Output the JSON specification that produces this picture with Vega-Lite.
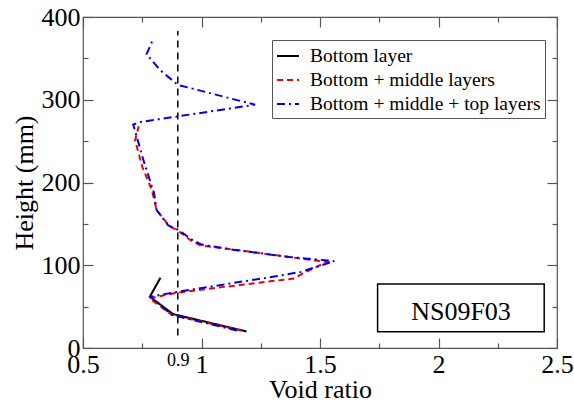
{
  "$schema": "https://vega.github.io/schema/vega-lite/v6.json",
  "width": 474,
  "height": 331,
  "autosize": "none",
  "padding": {"left": 83, "top": 17, "right": 17, "bottom": 57},
  "config": {
    "font": "Liberation Serif",
    "view": {"stroke": "#555", "strokeWidth": 1.2},
    "axis": {"domain": false, "grid": false, "tickColor": "#555", "tickWidth": 1.2, "labelColor": "black", "titleColor": "black", "labelFont": "Liberation Serif", "titleFont": "Liberation Serif", "titleFontWeight": "normal"}
  },
  "datasets": {
    "profiles": [
      {"s": "Bottom layer", "i": 1, "e": 1.19, "h": 20},
      {"s": "Bottom layer", "i": 2, "e": 0.88, "h": 41},
      {"s": "Bottom layer", "i": 3, "e": 0.782, "h": 62},
      {"s": "Bottom layer", "i": 4, "e": 0.827, "h": 85},
      {"s": "Bottom + middle layers", "i": 1, "e": 1.17, "h": 21},
      {"s": "Bottom + middle layers", "i": 2, "e": 0.875, "h": 40},
      {"s": "Bottom + middle layers", "i": 3, "e": 0.78, "h": 60},
      {"s": "Bottom + middle layers", "i": 4, "e": 0.9, "h": 67},
      {"s": "Bottom + middle layers", "i": 5, "e": 1.16, "h": 76},
      {"s": "Bottom + middle layers", "i": 6, "e": 1.39, "h": 84},
      {"s": "Bottom + middle layers", "i": 7, "e": 1.44, "h": 92},
      {"s": "Bottom + middle layers", "i": 8, "e": 1.53, "h": 104},
      {"s": "Bottom + middle layers", "i": 9, "e": 1.37, "h": 110},
      {"s": "Bottom + middle layers", "i": 10, "e": 1.16, "h": 118},
      {"s": "Bottom + middle layers", "i": 11, "e": 0.995, "h": 124},
      {"s": "Bottom + middle layers", "i": 12, "e": 0.955, "h": 130},
      {"s": "Bottom + middle layers", "i": 13, "e": 0.9, "h": 142},
      {"s": "Bottom + middle layers", "i": 14, "e": 0.865, "h": 147},
      {"s": "Bottom + middle layers", "i": 15, "e": 0.81, "h": 167},
      {"s": "Bottom + middle layers", "i": 16, "e": 0.8, "h": 180},
      {"s": "Bottom + middle layers", "i": 17, "e": 0.79, "h": 191},
      {"s": "Bottom + middle layers", "i": 18, "e": 0.75, "h": 219},
      {"s": "Bottom + middle layers", "i": 19, "e": 0.72, "h": 251},
      {"s": "Bottom + middle layers", "i": 20, "e": 0.735, "h": 268},
      {"s": "Bottom + middle + top layers", "i": 1, "e": 1.15, "h": 21},
      {"s": "Bottom + middle + top layers", "i": 2, "e": 0.875, "h": 40},
      {"s": "Bottom + middle + top layers", "i": 3, "e": 0.785, "h": 62},
      {"s": "Bottom + middle + top layers", "i": 4, "e": 0.9, "h": 68},
      {"s": "Bottom + middle + top layers", "i": 5, "e": 1.3, "h": 86},
      {"s": "Bottom + middle + top layers", "i": 6, "e": 1.42, "h": 92},
      {"s": "Bottom + middle + top layers", "i": 7, "e": 1.56, "h": 105},
      {"s": "Bottom + middle + top layers", "i": 8, "e": 1.37, "h": 110},
      {"s": "Bottom + middle + top layers", "i": 9, "e": 1.14, "h": 118.5},
      {"s": "Bottom + middle + top layers", "i": 10, "e": 1.0, "h": 125},
      {"s": "Bottom + middle + top layers", "i": 11, "e": 0.96, "h": 131},
      {"s": "Bottom + middle + top layers", "i": 12, "e": 0.9, "h": 143},
      {"s": "Bottom + middle + top layers", "i": 13, "e": 0.86, "h": 148},
      {"s": "Bottom + middle + top layers", "i": 14, "e": 0.81, "h": 167},
      {"s": "Bottom + middle + top layers", "i": 15, "e": 0.8, "h": 187},
      {"s": "Bottom + middle + top layers", "i": 16, "e": 0.755, "h": 227},
      {"s": "Bottom + middle + top layers", "i": 17, "e": 0.725, "h": 257},
      {"s": "Bottom + middle + top layers", "i": 18, "e": 0.712, "h": 270},
      {"s": "Bottom + middle + top layers", "i": 19, "e": 0.74, "h": 273},
      {"s": "Bottom + middle + top layers", "i": 20, "e": 1.226, "h": 294},
      {"s": "Bottom + middle + top layers", "i": 21, "e": 0.9, "h": 318},
      {"s": "Bottom + middle + top layers", "i": 22, "e": 0.825, "h": 336},
      {"s": "Bottom + middle + top layers", "i": 23, "e": 0.768, "h": 355},
      {"s": "Bottom + middle + top layers", "i": 24, "e": 0.797, "h": 374}
    ],
    "label": [
      {"x1": 1.743, "x2": 2.446, "y1": 19.7, "y2": 77.3, "xm": 2.095, "ym": 44, "t": "NS09F03"}
    ]
  },
  "resolve": {"axis": {"x": "independent", "y": "independent"}},
  "layer": [
    {
      "data": {"name": "profiles"},
      "mark": {"type": "line", "strokeWidth": 2, "clip": false},
      "encoding": {
        "x": {
          "field": "e", "type": "quantitative",
          "scale": {"domain": [0.5, 2.5], "nice": false, "zero": false},
          "axis": {
            "orient": "bottom",
            "values": [0.5, 0.75, 0.9, 1, 1.25, 1.5, 1.75, 2, 2.25, 2.5],
            "labelExpr": "indexof([0.75,1.25,1.75,2.25], datum.value) >= 0 ? '' : format(datum.value, '~g')",
            "labelOverlap": false,
            "labelFlush": false,
            "labelFontSize": {"condition": {"test": "datum.value == 0.9", "value": 18}, "value": 26},
            "labelPadding": 13,
            "tickSize": {"condition": {"test": "indexof([0.75,1.25,1.75,2.25], datum.value) >= 0", "value": -5}, "value": -10},
            "tickOpacity": {"condition": {"test": "datum.value == 0.9", "value": 0}, "value": 1},
            "title": "Void ratio",
            "titleFontSize": 26,
            "titlePadding": -6
          }
        },
        "y": {
          "field": "h", "type": "quantitative",
          "scale": {"domain": [0, 400], "nice": false},
          "axis": {
            "orient": "left",
            "values": [0, 50, 100, 150, 200, 250, 300, 350, 400],
            "labelExpr": "datum.value % 100 == 0 ? datum.label : ''",
            "labelOverlap": false,
            "labelFlush": false,
            "labelFontSize": 26,
            "labelPadding": 13,
            "tickSize": {"condition": {"test": "datum.value % 100 != 0", "value": -5}, "value": -10},
            "title": "Height (mm)",
            "titleFontSize": 26,
            "titlePadding": 4
          }
        },
        "order": {"field": "i", "type": "quantitative"},
        "color": {
          "field": "s", "type": "nominal",
          "scale": {"domain": ["Bottom layer", "Bottom + middle layers", "Bottom + middle + top layers"], "range": ["#000000", "#ee0000", "#0000ee"]},
          "legend": {"orient": "none", "legendX": 189, "legendY": 23, "title": null, "strokeColor": "#555", "fillColor": "white", "padding": 4, "labelFont": "Liberation Serif", "labelFontSize": 19.5, "labelColor": "black", "labelLimit": 400, "symbolSize": 484, "symbolStrokeWidth": 2, "symbolType": "stroke", "labelOffset": 10, "rowPadding": 2}
        },
        "strokeDash": {
          "field": "s", "type": "nominal",
          "scale": {"domain": ["Bottom layer", "Bottom + middle layers", "Bottom + middle + top layers"], "range": [[1, 0], [6, 4], [8, 4, 2, 4]]},
          "legend": {"orient": "none", "legendX": 189, "legendY": 23, "title": null, "strokeColor": "#555", "fillColor": "white", "padding": 4, "labelFont": "Liberation Serif", "labelFontSize": 19.5, "labelColor": "black", "labelLimit": 400, "symbolSize": 484, "symbolStrokeWidth": 2, "symbolType": "stroke", "labelOffset": 10, "rowPadding": 2}
        }
      }
    },
    {
      "data": {"values": [{"e": 0.9, "h1": 15, "h2": 383}]},
      "mark": {"type": "rule", "color": "black", "strokeWidth": 1.5, "strokeDash": [7, 5]},
      "encoding": {
        "x": {
          "field": "e", "type": "quantitative",
          "scale": {"domain": [0.5, 2.5], "nice": false, "zero": false},
          "axis": {
            "orient": "top",
            "values": [0.5, 0.75, 1, 1.25, 1.5, 1.75, 2, 2.25, 2.5],
            "labels": false,
            "title": null,
            "tickSize": {"condition": {"test": "indexof([0.75,1.25,1.75,2.25], datum.value) >= 0", "value": -5}, "value": -10}
          }
        },
        "y": {
          "field": "h1", "type": "quantitative",
          "scale": {"domain": [0, 400], "nice": false},
          "axis": {
            "orient": "right",
            "values": [0, 50, 100, 150, 200, 250, 300, 350, 400],
            "labels": false,
            "title": null,
            "tickSize": {"condition": {"test": "datum.value % 100 != 0", "value": -5}, "value": -10}
          }
        },
        "y2": {"field": "h2"}
      }
    },
    {
      "data": {"name": "label"},
      "mark": {"type": "rect", "fill": "white", "stroke": "black", "strokeWidth": 1.5},
      "encoding": {
        "x": {"field": "x1", "type": "quantitative", "axis": null},
        "x2": {"field": "x2"},
        "y": {"field": "y1", "type": "quantitative", "axis": null},
        "y2": {"field": "y2"}
      }
    },
    {
      "data": {"name": "label"},
      "mark": {"type": "text", "font": "Liberation Serif", "fontSize": 26, "color": "black", "align": "center", "baseline": "middle"},
      "encoding": {
        "x": {"field": "xm", "type": "quantitative", "axis": null},
        "y": {"field": "ym", "type": "quantitative", "axis": null},
        "text": {"field": "t"}
      }
    }
  ]
}
